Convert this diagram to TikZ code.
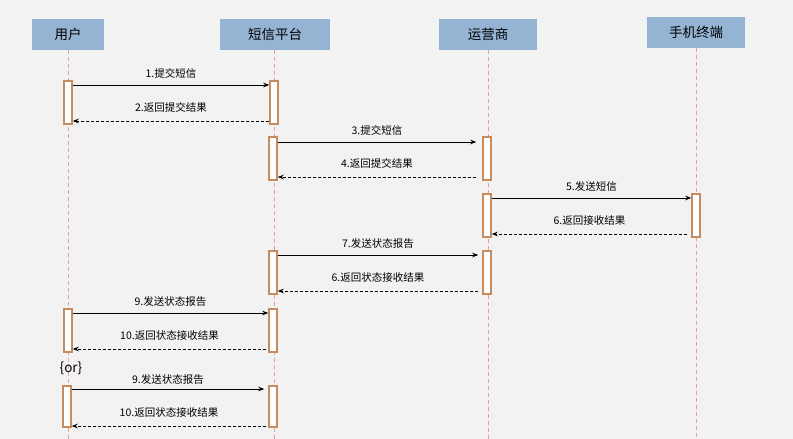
\documentclass[tikz,border=0pt]{standalone}
\usepackage{fontspec}
\setmainfont{Noto Sans CJK SC}
\usetikzlibrary{arrows.meta}
\definecolor{bgc}{HTML}{F2F2F2}
\definecolor{headc}{HTML}{95B4D4}
\definecolor{lifec}{HTML}{E8A58A}
\definecolor{actc}{HTML}{C68C60}
\tikzset{
  head/.style={fill=headc, draw=none, minimum height=31pt, inner sep=0pt, font=\fontsize{13.5}{15}\selectfont},
  life/.style={draw=lifec, dash pattern=on 4pt off 3pt, line width=0.8pt},
  act/.style={draw=actc, fill=white, line width=1.5pt, minimum width=8pt, inner sep=0pt},
  msg/.style={-{Stealth[length=6pt,width=4.5pt]}, line width=0.8pt, black},
  ret/.style={msg, dash pattern=on 3pt off 2pt},
  lbl/.style={font=\fontsize{10.5}{12}\selectfont, inner sep=1pt}
}
\begin{document}
\begin{tikzpicture}[x=1pt,y=-1pt]
\fill[bgc] (0,0) rectangle (793,439);
\useasboundingbox (0,0) rectangle (793,439);
% heads
\node[head, minimum width=72pt] (hU) at (68,34.5) {用户};
\node[head, minimum width=110pt] (hP) at (275,34.5) {短信平台};
\node[head, minimum width=98pt] (hO) at (488,34.5) {运营商};
\node[head, minimum width=98pt] (hM) at (696,32) {手机终端};
% lifeline ends
\coordinate (eU) at (68,439);
\coordinate (eP) at (274,439);
\coordinate (eO) at (488,439);
\coordinate (eM) at (696,439);
\draw[life] (hU.south) -- (eU);
\draw[life] (hP.south -| eP) -- (eP);
\draw[life] (hO.south) -- (eO);
\draw[life] (hM.south) -- (eM);
% activations
\node[act, minimum height=43pt] (u1) at (68,102.5) {};
\node[act, minimum height=43pt] (p1) at (274,102.5) {};
\node[act, minimum height=43pt] (p2) at (273,158.5) {};
\node[act, minimum height=43pt] (o1) at (487,158.5) {};
\node[act, minimum height=43pt] (o2) at (487,215.5) {};
\node[act, minimum height=43pt] (m1) at (696,215.5) {};
\node[act, minimum height=43pt] (p3) at (273,272.5) {};
\node[act, minimum height=43pt] (o3) at (487,272.5) {};
\node[act, minimum height=43pt] (u2) at (68,330.5) {};
\node[act, minimum height=43pt] (p4) at (273,330.5) {};
\node[act, minimum height=41pt] (u3) at (67,406.5) {};
\node[act, minimum height=41pt] (p5) at (273,406.5) {};
% messages
\draw[msg] (u1.east |- 0,85) -- node[lbl, above=5pt] {1.提交短信} (p1.west |- 0,85);
\draw[ret] (p1.west |- 0,121) -- node[lbl, above=7pt] {2.返回提交结果} (u1.east |- 0,121);
\draw[msg] (p2.east |- 0,142) -- node[lbl, above=5pt] {3.提交短信} ([xshift=-6pt]o1.west |- 0,142);
\draw[ret] ([xshift=-6pt]o1.west |- 0,177) -- node[lbl, above=7pt] {4.返回提交结果} (p2.east |- 0,177);
\draw[msg] (o2.east |- 0,198) -- node[lbl, above=5pt] {5.发送短信} (m1.west |- 0,198);
\draw[ret] ([xshift=-4pt]m1.west |- 0,234) -- node[lbl, above=7pt] {6.返回接收结果} (o2.east |- 0,234);
\draw[msg] (p3.east |- 0,255) -- node[lbl, above=5pt] {7.发送状态报告} ([xshift=-4pt]o3.west |- 0,255);
\draw[ret] ([xshift=-4pt]o3.west |- 0,291) -- node[lbl, above=7pt] {6.返回状态接收结果} (p3.east |- 0,291);
\draw[msg] (u2.east |- 0,313) -- node[lbl, above=5pt] {9.发送状态报告} (p4.west |- 0,313);
\draw[ret] ([xshift=-2pt]p4.west |- 0,349) -- node[lbl, above=7pt] {10.返回状态接收结果} (u2.east |- 0,349);
\node[font=\fontsize{13.5}{15}\selectfont, inner sep=0pt] (or) at (71,368) {\{or\}};
\draw[msg] (u3.east |- 0,389) -- node[lbl, above=3pt] {9.发送状态报告} ([xshift=-4pt]p5.west |- 0,389);
\draw[ret] ([xshift=-2pt]p5.west |- 0,426) -- node[lbl, above=7pt] {10.返回状态接收结果} (u3.east |- 0,426);
\end{tikzpicture}
\end{document}
